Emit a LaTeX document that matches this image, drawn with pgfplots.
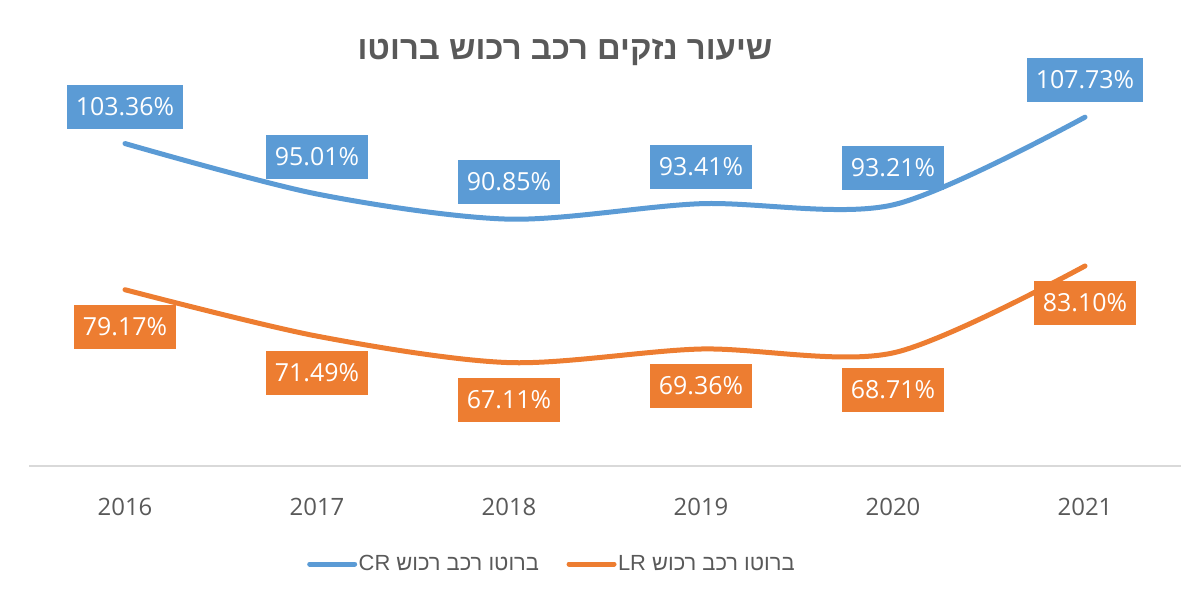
\documentclass[border=0pt]{standalone}
\usepackage{fontspec}
\setmainfont{Open Sans}
\newfontfamily\hebfont[Script=Hebrew]{Liberation Sans}
\TeXXeTstate=1
\usepackage{pgfplots}
\pgfplotsset{compat=1.18}
\definecolor{cblue}{HTML}{5B9BD5}
\definecolor{corange}{HTML}{ED7D31}
\definecolor{tgray}{HTML}{595959}
\definecolor{agray}{HTML}{D9D9D9}
\begin{document}
\begin{tikzpicture}[x=1bp,y=1bp]
\path[use as bounding box] (0,0) rectangle (1203,605);
\begin{axis}[
  at={(29bp,139bp)}, anchor=south west,
  scale only axis, width=1152bp, height=423bp,
  xmin=-0.5, xmax=5.5, ymin=50, ymax=120,
  axis x line*=bottom, axis y line=none,
  x axis line style={draw=agray, line width=1.5bp, -},
  xtick={0,1,2,3,4,5}, xticklabels={2016,2017,2018,2019,2020,2021},
  major tick length=0pt,
  xticklabel style={font=\fontsize{24}{24}\selectfont, text=tgray, anchor=center, yshift=-41bp},
  /pgf/number format/assume math mode=true,
  clip=false,
  point meta=explicit symbolic,
  nodes near coords,
  legend style={at={(0.2413,-0.2317)}, anchor=west, draw=none, fill=none,
    inner sep=0pt, font=\hebfont\fontsize{22}{22}\selectfont, text=tgray,
    legend columns=2,
    /tikz/every even column/.append style={column sep=26bp},
    nodes={inner xsep=1.5bp}},
  legend image code/.code={\draw[#1, line width=5bp, line cap=round] (0bp,0bp) -- (45bp,0bp);},
]
\addplot[cblue, line width=5bp, line cap=round, smooth,
  every node near coord/.append style={fill=cblue, text=white, anchor=center, yshift=37bp,
    inner xsep=9bp, minimum height=44bp, font=\fontsize{25}{25}\selectfont}]
  coordinates {(0,103.36) [103.36\%] (1,95.01) [95.01\%] (2,90.85) [90.85\%]
               (3,93.41) [93.41\%] (4,93.21) [93.21\%] (5,107.73) [107.73\%]};
\addlegendentry{\beginR ברוטו רכב רכוש \beginL CR\endL\endR}
\addplot[corange, line width=5bp, line cap=round, smooth,
  every node near coord/.append style={fill=corange, text=white, anchor=center, yshift=-37bp,
    inner xsep=9bp, minimum height=44bp, font=\fontsize{25}{25}\selectfont}]
  coordinates {(0,79.17) [79.17\%] (1,71.49) [71.49\%] (2,67.11) [67.11\%]
               (3,69.36) [69.36\%] (4,68.71) [68.71\%] (5,83.10) [83.10\%]};
\addlegendentry{\beginR ברוטו רכב רכוש \beginL LR\endL\endR}
\end{axis}
\node[font=\hebfont\bfseries\fontsize{33}{33}\selectfont, text=tgray] at (565,553)
  {\beginR שיעור נזקים רכב רכוש ברוטו\endR};
\end{tikzpicture}
\end{document}
